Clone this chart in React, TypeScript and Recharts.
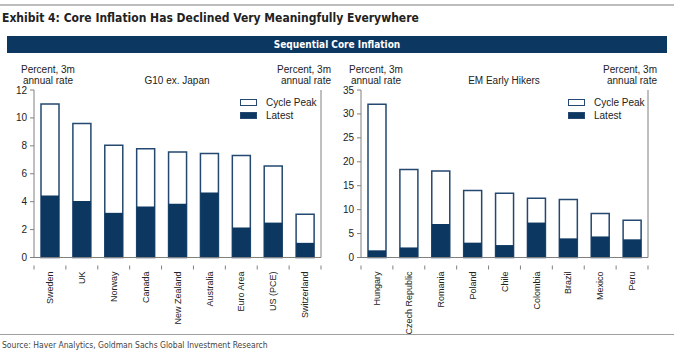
import { BarChart, Bar, XAxis, YAxis, Legend } from "recharts";

const G10_COUNTRIES = ["Sweden", "UK", "Norway", "Canada", "New Zealand", "Australia", "Euro Area", "US (PCE)", "Switzerland"];
const G10_PEAK = [11.0, 9.6, 8.05, 7.8, 7.55, 7.45, 7.3, 6.55, 3.1];
const G10_LATEST = [4.45, 4.05, 3.2, 3.65, 3.85, 4.65, 2.15, 2.5, 1.05];
const G10_TICKS = [0, 2, 4, 6, 8, 10, 12];

const EM_COUNTRIES = ["Hungary", "Czech Republic", "Romania", "Poland", "Chile", "Colombia", "Brazil", "Mexico", "Peru"];
const EM_PEAK = [32.0, 18.4, 18.1, 14.0, 13.4, 12.4, 12.1, 9.2, 7.8];
const EM_LATEST = [1.5, 2.1, 7.0, 3.1, 2.6, 7.3, 4.0, 4.4, 3.8];
const EM_TICKS = [0, 5, 10, 15, 20, 25, 30, 35];

const NAVY = "#0c3761";
const OUTLINE = "#24486f";
const AXIS = "#808080";
const FONT = "'Liberation Sans', Arial, sans-serif";
const NARROW = "'Liberation Sans Narrow', 'DejaVu Sans Condensed', Arial, sans-serif";

const PLOT_TOP = 90;
const PLOT_BOTTOM = 257.5;
const PAGE_H = 354;

function makeTick(band: number) {
  return (props: any) => {
    const { x, y, payload, index } = props;
    return (
      <g transform={`translate(${x},${y})`}>
        {index === 0 && <line x1={-band / 2} y1={0} x2={-band / 2} y2={4} stroke={AXIS} />}
        <line x1={band / 2} y1={0} x2={band / 2} y2={4} stroke={AXIS} />
        <text
          transform="rotate(-90)"
          x={-6}
          y={0}
          dy="0.35em"
          textAnchor="end"
          fontSize={9}
          fontFamily={FONT}
          fill="#222"
        >
          {payload.value}
        </text>
      </g>
    );
  };
}

function LegendBox() {
  const row = (label: string, filled: boolean) => (
    <div style={{ display: "flex", alignItems: "center", height: 13 }}>
      <div
        style={{
          width: 15,
          height: 5,
          border: `1.5px solid ${OUTLINE}`,
          background: filled ? NAVY : "#fff",
          marginRight: 9,
        }}
      />
      <span style={{ fontSize: 10, fontFamily: FONT, color: "#222" }}>{label}</span>
    </div>
  );
  return (
    <div>
      {row("Cycle Peak", false)}
      {row("Latest", true)}
    </div>
  );
}

interface PanelProps {
  countries: string[];
  peak: number[];
  latest: number[];
  ticks: number[];
  left: number;
  width: number;
  marginLeft: number;
  legendLeft: number;
}

function Panel({ countries, peak, latest, ticks, left, width, marginLeft, legendLeft }: PanelProps) {
  const data = countries.map((c, i) => ({ country: c, peak: peak[i], latest: latest[i] }));
  const plotW = width - marginLeft - 30 - 28;
  const band = plotW / countries.length;
  const max = ticks[ticks.length - 1];
  const tickStyle = { fontSize: 10, fontFamily: FONT, fill: "#222" };
  return (
    <div style={{ position: "absolute", left, top: 0 }}>
      <BarChart
        width={width}
        height={PAGE_H}
        data={data}
        margin={{ top: PLOT_TOP, right: 0, bottom: PAGE_H - PLOT_BOTTOM - 70, left: marginLeft }}
        barSize={18}
        barGap={-18}
      >
        <XAxis
          dataKey="country"
          interval={0}
          height={70}
          axisLine={{ stroke: AXIS }}
          tickLine={false}
          tick={makeTick(band)}
        />
        <YAxis
          yAxisId="l"
          domain={[0, max]}
          ticks={ticks}
          width={30}
          tickSize={4}
          tickMargin={3}
          axisLine={{ stroke: AXIS }}
          tickLine={{ stroke: AXIS }}
          tick={tickStyle}
        />
        <YAxis
          yAxisId="r"
          orientation="right"
          domain={[0, max]}
          ticks={ticks}
          width={28}
          tickSize={4}
          tickMargin={3}
          axisLine={{ stroke: AXIS }}
          tickLine={{ stroke: AXIS }}
          tick={tickStyle}
        />
        <Legend
          layout="horizontal"
          verticalAlign="middle"
          align="center"
          content={() => <LegendBox />}
          wrapperStyle={{ position: "absolute", top: 96, left: legendLeft, width: "auto" }}
        />
        <Bar yAxisId="l" dataKey="peak" name="Cycle Peak" fill="#ffffff" stroke={OUTLINE} strokeWidth={1.5} isAnimationActive={false} />
        <Bar yAxisId="l" dataKey="latest" name="Latest" fill={NAVY} isAnimationActive={false} />
      </BarChart>
    </div>
  );
}

function Txt({ x, y, children, align = "center", w = 120, style = {} }: any) {
  const left = align === "center" ? x - w / 2 : align === "right" ? x - w : x;
  return (
    <div
      style={{
        position: "absolute",
        left,
        top: y,
        width: w,
        textAlign: align,
        fontSize: 10,
        lineHeight: "11px",
        fontFamily: FONT,
        color: "#222",
        whiteSpace: "nowrap",
        ...style,
      }}
    >
      {children}
    </div>
  );
}

export default function App() {
  return (
    <div style={{ position: "absolute", left: 0, top: 0, width: 674, height: 354, background: "#fff", overflow: "hidden" }}>
      <div style={{ position: "absolute", left: 0, top: 4, width: 674, height: 2, background: "#bdbdbd" }} />
      <div
        style={{
          position: "absolute",
          left: 2,
          top: 11,
          fontFamily: NARROW,
          fontWeight: "bold",
          fontSize: 12,
          color: "#222",
          whiteSpace: "nowrap",
        }}
      >
        Exhibit 4: Core Inflation Has Declined Very Meaningfully Everywhere
      </div>
      <div
        style={{
          position: "absolute",
          left: 7,
          top: 36,
          width: 660,
          height: 17,
          background: NAVY,
          color: "#fff",
          fontFamily: NARROW,
          fontWeight: "bold",
          fontSize: 10,
          lineHeight: "17px",
          textAlign: "center",
        }}
      >
        Sequential Core Inflation
      </div>

      <Panel
        countries={G10_COUNTRIES}
        peak={G10_PEAK}
        latest={G10_LATEST}
        ticks={G10_TICKS}
        left={0}
        width={349}
        marginLeft={4}
        legendLeft={240}
      />
      <Panel
        countries={EM_COUNTRIES}
        peak={EM_PEAK}
        latest={EM_LATEST}
        ticks={EM_TICKS}
        left={331}
        width={345}
        marginLeft={0}
        legendLeft={237}
      />

      <Txt x={48} y={64}>Percent, 3m<br />annual rate</Txt>
      <Txt x={177} y={75}>G10 ex. Japan</Txt>
      <Txt x={331} y={64} align="right">Percent, 3m<br />annual rate</Txt>

      <Txt x={376} y={64}>Percent, 3m<br />annual rate</Txt>
      <Txt x={504} y={75}>EM Early Hikers</Txt>
      <Txt x={657} y={64} align="right">Percent, 3m<br />annual rate</Txt>

      <div style={{ position: "absolute", left: 0, top: 334, width: 674, height: 1, background: "#a0a0a0" }} />
      <div
        style={{
          position: "absolute",
          left: 2,
          top: 340,
          fontFamily: NARROW,
          fontSize: 8.5,
          color: "#444",
          whiteSpace: "nowrap",
        }}
      >
        Source: Haver Analytics, Goldman Sachs Global Investment Research
      </div>
    </div>
  );
}
